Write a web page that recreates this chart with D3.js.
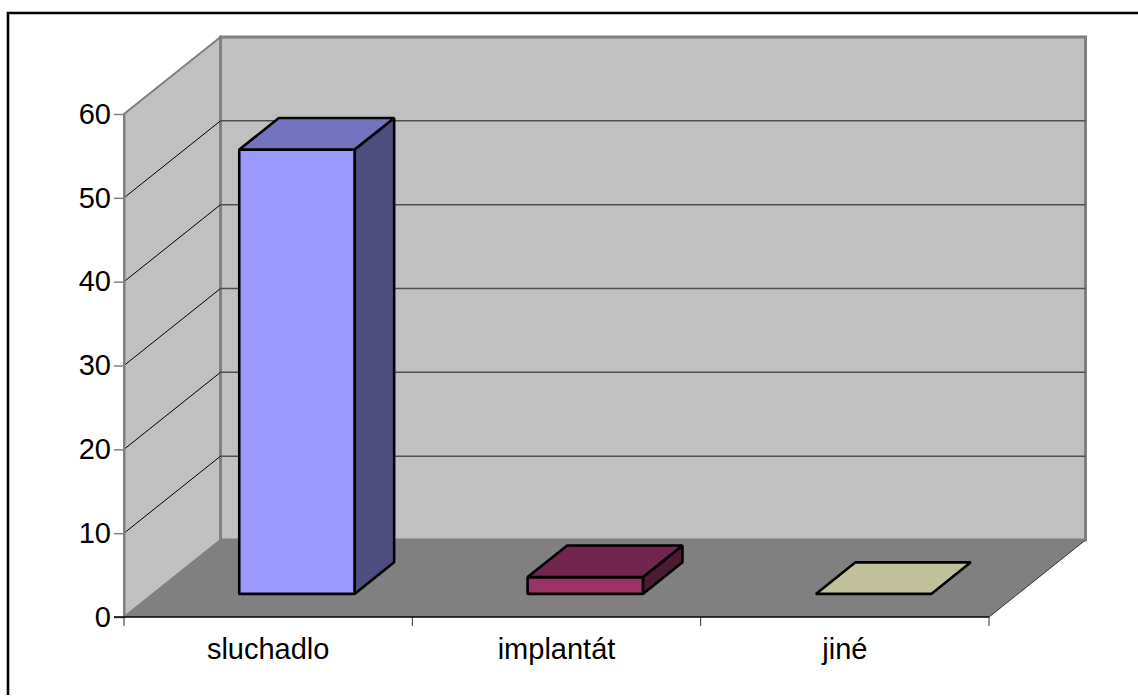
<!DOCTYPE html>
<html>
<head>
<meta charset="utf-8">
<script src="https://d3js.org/d3.v7.min.js"></script>
<style>
html,body{margin:0;padding:0;background:#fff}
svg{display:block}
text{font-family:"Liberation Sans",Arial,sans-serif;fill:#000}
</style>
</head>
<body>
<div id="chart"></div>
<script>
const categories = ["sluchadlo", "implantát", "jiné"];
const values = [53, 2, 0];
const yTicks = [0, 10, 20, 30, 40, 50, 60];
const faceColors = ["#9999ff", "#993366", "#c0c09a"];
const sideColors = ["#4d4d80", "#4d1a33", "#606050"];
const topColors = ["#7373bf", "#73264d", "#c0c09a"];

const width = 1138, height = 696;
const svg = d3.select("#chart").append("svg").attr("width", width).attr("height", height);

// Oblique 3D box: category along x, value along y, depth in 0..1 toward the back wall.
const x = d3.scaleLinear().domain([0, categories.length]).range([124, 989]);
const y = d3.scaleLinear().domain([0, 60]).range([617, 114]);
const depthX = d3.scaleLinear().domain([0, 1]).range([0, 96.5]);
const depthY = d3.scaleLinear().domain([0, 1]).range([0, -77]);
const band = d3.scaleBand().domain(categories).range([123.8, 988.8]).paddingInner(0.6).paddingOuter(0.3);

const px = (xv, v, d) => [xv + depthX(d), y(v) + depthY(d)];
const poly = pts => d3.line()(pts) + "Z";

// Outer frame: top and left rules run off the page edge
svg.append("path").attr("d", "M8,695V13H1138")
  .attr("fill", "none").attr("stroke", "#000").attr("stroke-width", 2.6);

const x0 = x(0), x1 = x(categories.length);
const wall = "#c0c0c0", floor = "#808080", edge = "#808080";

// Back wall
svg.append("path")
  .attr("d", poly([px(x0, 0, 1), px(x0, 60, 1), px(x1, 60, 1), px(x1, 0, 1)]))
  .attr("fill", wall).attr("stroke", edge).attr("stroke-width", 3);
// Side wall
svg.append("path")
  .attr("d", poly([px(x0, 0, 0), px(x0, 60, 0), px(x0, 60, 1), px(x0, 0, 1)]))
  .attr("fill", wall).attr("stroke", edge).attr("stroke-width", 2);
svg.append("line")
  .attr("x1", px(x0, 0, 1)[0]).attr("y1", px(x0, 0, 1)[1])
  .attr("x2", px(x0, 60, 1)[0]).attr("y2", px(x0, 60, 1)[1])
  .attr("stroke", edge).attr("stroke-width", 3);

// Gridlines run along the side wall and across the back wall
const gridTicks = yTicks.filter(t => t > 0 && t < 60);
svg.append("g").selectAll("path").data(gridTicks).join("path")
  .attr("d", t => d3.line()([px(x0, t, 0), px(x0, t, 1)]))
  .attr("fill", "none").attr("stroke", "#000").attr("stroke-width", 1);
svg.append("g").selectAll("path").data(gridTicks).join("path")
  .attr("d", t => d3.line()([px(x0, t, 1), px(x1, t, 1)]))
  .attr("fill", "none").attr("stroke", "#505050").attr("stroke-width", 1.5);

// Floor
svg.append("path")
  .attr("d", poly([px(x0, 0, 0), px(x1, 0, 0), px(x1, 0, 1), px(x0, 0, 1)]))
  .attr("fill", floor);
svg.append("path")
  .attr("d", d3.line()([px(x1, 0, 0), px(x1, 0, 1)]))
  .attr("fill", "none").attr("stroke", "#303030").attr("stroke-width", 1);

// Value axis and category axis with outward ticks
svg.append("g").attr("transform", `translate(${x0},0)`)
  .call(d3.axisLeft(y).tickValues(yTicks).tickSize(10).tickPadding(3).tickSizeOuter(0))
  .call(g => g.select(".domain").attr("stroke", edge).attr("stroke-width", 2))
  .call(g => g.selectAll(".tick line").attr("stroke", edge).attr("stroke-width", 1.5))
  .call(g => g.selectAll("text").attr("font-size", 29).attr("font-family", '"Liberation Sans"').attr("fill", "#000"));

svg.append("line").attr("x1", x0 - 10).attr("x2", x1).attr("y1", y(0)).attr("y2", y(0))
  .attr("stroke", "#000").attr("stroke-width", 1.5);
svg.append("g").selectAll("line").data(d3.range(categories.length + 1)).join("line")
  .attr("x1", d => x(d)).attr("x2", d => x(d))
  .attr("y1", y(0)).attr("y2", y(0) + 9)
  .attr("stroke", "#303030").attr("stroke-width", 1);
svg.append("g").selectAll("text").data(categories).join("text")
  .attr("x", (d, i) => x(i + 0.5)).attr("y", 659)
  .attr("text-anchor", "middle").attr("font-size", 29).text(d => d);

// Bars: front, side and top faces of each box; a zero value leaves only its flat top
const dFront = 0.3, dBack = 0.71;
const bars = svg.append("g").selectAll("g").data(categories).join("g")
  .attr("stroke", "#000").attr("stroke-width", 2.6).attr("stroke-linejoin", "bevel");
bars.each(function(c, i) {
  const g = d3.select(this), v = values[i];
  const l = band(c), r = l + band.bandwidth();
  if (v > 0) {
    g.append("path").attr("fill", sideColors[i])
      .attr("d", poly([px(r, 0, dFront), px(r, 0, dBack), px(r, v, dBack), px(r, v, dFront)]));
    g.append("path").attr("fill", faceColors[i])
      .attr("d", poly([px(l, 0, dFront), px(r, 0, dFront), px(r, v, dFront), px(l, v, dFront)]));
  }
  g.append("path").attr("fill", topColors[i])
    .attr("d", poly([px(l, v, dFront), px(r, v, dFront), px(r, v, dBack), px(l, v, dBack)]));
});
</script>
</body>
</html>
